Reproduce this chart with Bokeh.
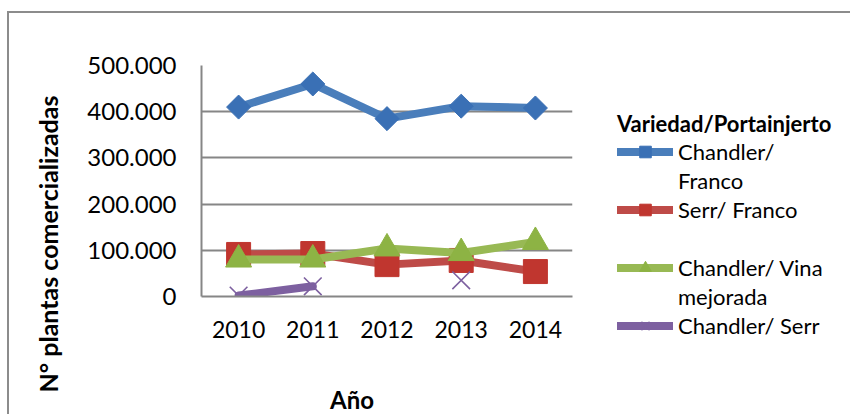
import math
from bokeh.plotting import figure
from bokeh.layouts import row
from bokeh.models import (FactorRange, Range1d, FixedTicker, CustomJSTickFormatter,
                          Legend, LegendItem, Title, ColumnDataSource)
from bokeh.embed import file_html
from bokeh.resources import INLINE

years = ["2010", "2011", "2012", "2013", "2014"]
chandler_franco = [410000, 460000, 385000, 412000, 408000]
serr_franco = [91000, 93000, 69000, 78000, 54000]
chandler_vina = [80000, 80000, 104000, 94000, 118000]
chandler_serr = [2000, 22000, float("nan"), 35000, float("nan")]
y_ticks = [0, 100000, 200000, 300000, 400000, 500000]

series_names = ["Chandler/ Franco", "Serr/ Franco", "Chandler/ Vina mejorada", "Chandler/ Serr"]
legend_lines = [["Chandler/", "Franco"], ["Serr/ Franco", " "], ["Chandler/ Vina", "mejorada"], ["Chandler/ Serr"]]
legend_title = "Variedad/Portainjerto"
x_title = "Año"
y_title = "N° plantas comercializadas"

FONT = "Lato"
# offset of the whole layout inside the page (outer chart border drawn as a shadow)
OX, OY = 9, 13

p = figure(width=581, height=403, output_backend="svg", toolbar_location=None,
           x_range=FactorRange(factors=years, range_padding=0),
           y_range=Range1d(0, 500000),
           min_border_left=192, min_border_right=18, min_border_top=52, min_border_bottom=120)
p.outline_line_color = None
p.background_fill_color = "white"
p.border_fill_color = "white"

# grid
p.xgrid.grid_line_color = None
p.ygrid.grid_line_color = "#868686"
p.ygrid.grid_line_width = 2
p.ygrid.ticker = FixedTicker(ticks=y_ticks)

# axes
p.yaxis.ticker = FixedTicker(ticks=y_ticks)
p.yaxis.formatter = CustomJSTickFormatter(code="return tick.toFixed(0).replace(/\\B(?=(\\d{3})+(?!\\d))/g, '.');")
for ax in (p.xaxis[0], p.yaxis[0]):
    ax.axis_line_color = "#868686"
    ax.axis_line_width = 2
    ax.major_tick_line_color = None
    ax.minor_tick_line_color = None
    ax.major_label_text_font = FONT
    ax.major_label_text_font_size = "23px"
    ax.major_label_text_color = "black"
p.yaxis.major_label_text_font_size = "24px"
p.yaxis.major_label_standoff = 19
p.xaxis.major_label_standoff = 18
p.xaxis.group_text_font_size = "0px"

# x axis title (trailing no-break spaces shift the centred word to the left, as in the original)
p.xaxis.axis_label = x_title + "\u00a0" * 12
p.xaxis.axis_label_standoff = 44
p.xaxis.axis_label_text_font = FONT
p.xaxis.axis_label_text_font_style = "bold"
p.xaxis.axis_label_text_font_size = "24px"
p.xaxis.axis_label_text_color = "black"

colors = ["#4A7EBB", "#BE4B48", "#98B954", "#7D60A0"]
mfill = ["#3A70B5", "#C0362F", "#8DB344", "#7D60A0"]
data = [chandler_franco, serr_franco, chandler_vina, chandler_serr]
markers = ["square", "square", "triangle", "x"]
msizes = [17, 24, 26, 25]
angles = [math.pi / 4, 0, 0, 0]

# legend-only figure (its ranges keep the series outside its frame; only the legend shows)
lf = figure(width=262, height=403, output_backend="svg", toolbar_location=None,
            x_range=FactorRange(factors=years), y_range=Range1d(-2, -1),
            x_axis_type=None, y_axis_type=None,
            min_border_left=0, min_border_right=0, min_border_top=0, min_border_bottom=0)
lf.frame_align = False
lf.outline_line_color = None
lf.grid.grid_line_color = None
lf.background_fill_color = "white"
lf.border_fill_color = "white"

items = []
for i, vals in enumerate(data):
    src = ColumnDataSource(dict(x=years, y=vals))
    p.line("x", "y", source=src, line_color=colors[i], line_width=8, line_join="round", line_cap="round")
    if markers[i] == "x":
        p.scatter("x", "y", source=src, marker="x", size=msizes[i], line_color=mfill[i], line_width=1.6)
    else:
        p.scatter("x", "y", source=src, marker=markers[i], size=msizes[i], angle=angles[i],
                  fill_color=mfill[i], line_color=mfill[i], line_width=1)
    ln = lf.line("x", "y", source=src, line_color=colors[i], line_width=8, line_cap="round")
    if markers[i] == "x":
        sc = lf.scatter("x", "y", source=src, marker="x", size=12, line_color=mfill[i], line_width=1.6)
    else:
        sc = lf.scatter("x", "y", source=src, marker=markers[i], size=10, angle=angles[i],
                        fill_color=mfill[i], line_color=mfill[i])
    lines = legend_lines[i]
    items.append(LegendItem(label=lines[0], renderers=[ln, sc]))
    for extra in lines[1:]:
        dummy = lf.line("x", "y", source=src, line_alpha=0)
        items.append(LegendItem(label=extra, renderers=[dummy]))

legend = Legend(items=items, location=(27, 76), orientation="vertical",
                title=legend_title,
                title_text_font=FONT, title_text_font_style="bold", title_text_font_size="22px",
                title_text_color="black", title_standoff=0,
                label_text_font=FONT, label_text_font_size="22px", label_standoff=5,
                label_text_color="black",
                glyph_width=56, glyph_height=29, label_height=29, spacing=0,
                padding=0, margin=0, border_line_color=None, background_fill_alpha=0,
                click_policy="none")
lf.add_layout(legend, "center")

ytitle = Title(text=y_title, align="left", offset=-96, standoff=43,
               text_font=FONT, text_font_style="bold", text_font_size="25px", text_color="black")
p.add_layout(ytitle, "left")

layout = row(p, lf, spacing=0, margin=(OY, 0, 0, OX),
             styles={"box-shadow": "-2px -2px 0 0 #8C8C8C", "overflow": "visible"})
open("out.html", "w").write(file_html(layout, INLINE))
